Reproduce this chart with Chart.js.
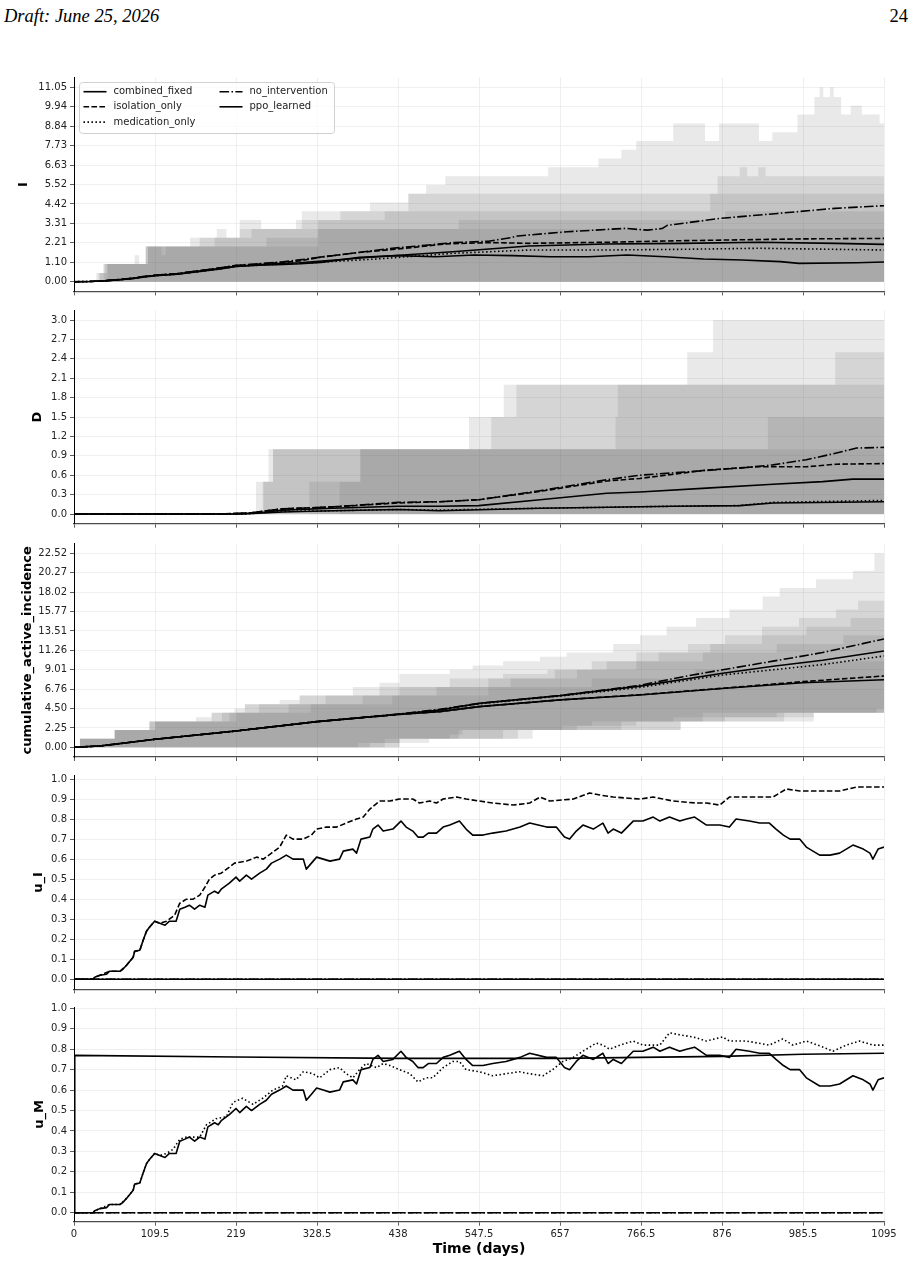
<!DOCTYPE html>
<html>
<head>
<meta charset="utf-8">
<title>Policy comparison over time</title>
<script src="https://cdn.jsdelivr.net/npm/chart.js@4.4.1/dist/chart.umd.min.js"></script>
<style>
  html, body { margin: 0; padding: 0; background: #fff; }
  body { position: relative; width: 916px; height: 1265px; overflow: hidden; }
  .page-head { position: absolute; top: 6px; font-family: "Liberation Serif", "DejaVu Serif", serif; font-size: 18.5px; line-height: 20px; color: #000; }
  #headLeft { left: 4px; font-style: italic; }
  #headRight { right: 8px; }
  canvas { position: absolute; left: 0; }
</style>
</head>
<body>
<div class="page-head" id="headLeft">Draft: June 25, 2026</div>
<div class="page-head" id="headRight">24</div>
<canvas id="panelI"></canvas>
<canvas id="panelD"></canvas>
<canvas id="panelCum"></canvas>
<canvas id="panelUI"></canvas>
<canvas id="panelUM"></canvas>
<script>
// ---- axis ticks ----
const dayTicks = [0, 109.5, 219, 328.5, 438, 547.5, 657, 766.5, 876, 985.5, 1095];
const iTickLabels = ['0.00', '1.10', '2.21', '3.31', '4.42', '5.52', '6.63', '7.73', '8.84', '9.94', '11.05'];
const dTickLabels = ['0.0', '0.3', '0.6', '0.9', '1.2', '1.5', '1.8', '2.1', '2.4', '2.7', '3.0'];
const cumTickLabels = ['0.00', '2.25', '4.50', '6.76', '9.01', '11.26', '13.51', '15.77', '18.02', '20.27', '22.52'];
const uTickLabels = ['0.0', '0.1', '0.2', '0.3', '0.4', '0.5', '0.6', '0.7', '0.8', '0.9', '1.0'];

const policies = ['combined_fixed', 'isolation_only', 'medication_only', 'no_intervention', 'ppo_learned'];

// ---- I: mean infected, [day, value] ----
const iCombined = [[0,0],[20,0.01],[40,0.04],[60,0.11],[80,0.19],[95,0.28],[110,0.35],[140,0.44],[170,0.6],[200,0.76],[219,0.88],[250,0.96],[283,1.05],[305,1.08],[409,1.42],[512,1.7],[615,2.03],[719,2.14],[822,2.18],[926,2.24],[1029,2.18],[1095,2.12]];
const iIsolation = [[0,0],[20,0.01],[40,0.05],[60,0.12],[80,0.2],[95,0.3],[110,0.37],[140,0.46],[170,0.63],[200,0.8],[219,0.92],[250,1.0],[283,1.1],[305,1.18],[334,1.4],[383,1.65],[409,1.75],[460,1.95],[502,2.15],[564,2.22],[615,2.18],[719,2.24],[822,2.33],[978,2.43],[1095,2.46]];
const iMedication = [[0,0],[20,0.01],[40,0.04],[60,0.1],[80,0.18],[95,0.27],[110,0.34],[140,0.43],[170,0.58],[200,0.74],[219,0.86],[250,0.94],[283,1.0],[305,1.04],[409,1.29],[512,1.61],[615,1.8],[719,1.8],[822,1.84],[926,1.9],[1029,1.84],[1095,1.8]];
const iNoIntervention = [[0,0],[20,0.01],[40,0.05],[60,0.12],[80,0.2],[95,0.3],[110,0.37],[140,0.46],[170,0.63],[200,0.8],[219,0.93],[250,1.02],[283,1.13],[305,1.24],[334,1.4],[383,1.65],[430,1.9],[470,2.05],[512,2.22],[560,2.3],[590,2.5],[600,2.6],[667,2.84],[745,3.03],[775,2.93],[795,3.02],[802,3.2],[874,3.6],[951,3.88],[1029,4.17],[1095,4.32]];
const iPpo = [[0,0],[20,0.01],[40,0.04],[60,0.1],[80,0.18],[95,0.27],[110,0.34],[140,0.43],[170,0.58],[200,0.74],[219,0.86],[250,0.93],[283,0.98],[306,1.02],[334,1.1],[386,1.38],[437,1.48],[489,1.42],[541,1.52],[593,1.48],[644,1.42],[696,1.42],[748,1.52],[799,1.42],[851,1.29],[903,1.23],[955,1.14],[980,1.04],[1058,1.08],[1095,1.12]];

// ---- I: upper percentile per policy (lower is 0), step breakpoints ----
const iHiNoIntervention = [[0,0],[30,0.5],[40,1],[82,1.5],[88,1],[97,2],[118,1.5],[124,2],[157,2.5],[193,3],[206,2.5],[224,3.5],[253,3],[308,4],[400,4.5],[452,5],[476,5.5],[502,6],[641,6.5],[709,7],[740,7.5],[760,8],[810,9],[853,8],[872,9],[926,8],[944,8.5],[978,9.5],[1001,10.5],[1008,11.05],[1013,10.5],[1022,11.05],[1027,10.5],[1037,9.5],[1050,10],[1065,9.5],[1089,9],[1095,9]];
const iHiIsolation = [[0,0],[33,0.5],[42,1],[97,2],[170,2.5],[224,3],[300,3.5],[360,4],[452,5],[870,6],[900,6.5],[910,6],[925,6.5],[935,6],[1095,6]];
const iHiCombined = [[0,0],[35,0.5],[45,1],[97,2],[190,2.5],[240,3],[330,3.5],[420,4],[860,5],[1095,5]];
const iHiMedication = [[0,0],[40,1],[100,2],[260,2.5],[330,3],[520,3.5],[880,4],[1095,4]];
const iHiPpo = [[0,0],[45,1],[100,2],[330,3],[1095,3]];

// ---- D: mean deaths ----
const dCombined = [[0,0],[220,0],[260,0.03],[282,0.06],[350,0.09],[438,0.12],[494,0.12],[547,0.13],[630,0.22],[720,0.32],[765,0.34],[855,0.4],[945,0.46],[1012,0.5],[1053,0.54],[1095,0.54]];
const dIsolation = [[0,0],[200,0],[240,0.02],[282,0.08],[350,0.11],[438,0.17],[494,0.19],[547,0.22],[630,0.35],[720,0.51],[765,0.55],[855,0.68],[922,0.73],[990,0.73],[1030,0.77],[1095,0.78]];
const dMedication = [[0,0],[230,0],[282,0.04],[350,0.05],[438,0.07],[494,0.06],[630,0.09],[700,0.1],[810,0.12],[900,0.13],[945,0.18],[1095,0.21]];
const dNoIntervention = [[0,0],[200,0],[240,0.02],[282,0.08],[350,0.11],[438,0.18],[494,0.19],[547,0.22],[630,0.36],[720,0.53],[765,0.6],[900,0.71],[945,0.76],[990,0.84],[1026,0.93],[1058,1.02],[1095,1.03]];
const dPpo = [[0,0],[230,0],[282,0.03],[350,0.05],[438,0.07],[494,0.05],[630,0.09],[700,0.1],[810,0.12],[900,0.13],[945,0.17],[1095,0.19]];

const dHiNoIntervention = [[0,0],[246,0.5],[263,1],[534,1.5],[581,2],[829,2.5],[864,3],[1095,3]];
const dHiIsolation = [[0,0],[255,0.5],[269,1],[564,1.5],[598,2],[1029,2.5],[1095,2.5]];
const dHiCombined = [[0,0],[256,0.5],[269,1],[732,1.5],[735,2],[1095,2]];
const dHiPpo = [[0,0],[318,0.5],[387,1],[938,1.5],[1095,1.5]];
const dHiMedication = [[0,0],[359,0.5],[387,1],[1095,1]];

// ---- cumulative_active_incidence: mean ----
const cumCombined = [[0,0],[35,0.15],[109.5,0.93],[219,1.9],[328.5,2.98],[438,3.83],[494,4.33],[547.5,5.1],[657,6.0],[765,7.1],[877,8.6],[945,9.4],[1012,10.1],[1095,11.18]];
const cumIsolation = [[0,0],[35,0.15],[109.5,0.93],[219,1.9],[328.5,2.98],[438,3.8],[494,4.14],[547.5,4.72],[657,5.5],[765,6.1],[876,6.85],[985,7.62],[1095,8.28]];
const cumMedication = [[0,0],[35,0.15],[109.5,0.93],[219,1.9],[328.5,2.98],[438,3.83],[494,4.3],[547.5,5.05],[657,5.95],[765,6.95],[877,8.4],[945,9.0],[1012,9.6],[1095,10.6]];
const cumNoIntervention = [[0,0],[35,0.15],[109.5,0.93],[219,1.9],[328.5,2.98],[438,3.85],[494,4.4],[547.5,5.1],[657,6.0],[765,7.2],[830,8.3],[877,9.0],[945,10.0],[1012,11.0],[1095,12.58]];
const cumPpo = [[0,0],[35,0.15],[109.5,0.93],[219,1.9],[328.5,2.98],[438,3.8],[494,4.14],[547.5,4.72],[657,5.5],[765,6.08],[876,6.82],[985,7.5],[1095,7.85]];

// ---- cumulative: percentile band per policy (low / high) ----
const cumLoNoIntervention = [[0,0],[384,0.5],[420,1],[508,1.5],[525,2],[660,2.5],[700,3],[810,3.5],[850,4],[1085,4.5],[1095,4.5]];
const cumHiNoIntervention = [[0,0],[8,1],[55,2],[102,3],[165,3.5],[186,4],[217,4.5],[231,5],[278,5.5],[305,6],[377,7],[413,7.5],[440,8.5],[508,9],[539,9.5],[580,10],[630,10.5],[666,11],[729,12],[765,13],[801,14],[841,15],[886,16],[931,17.5],[954,18.5],[1003,19.5],[1053,20.5],[1082,22.5],[1095,22.5]];
const cumLoIsolation = [[0,0],[400,0.5],[440,1],[520,2],[680,2.5],[760,3],[850,3.5],[950,4],[1095,4.5]];
const cumHiIsolation = [[0,0],[8,1],[55,2],[102,3],[186,4],[231,5],[305,6],[413,7],[508,8],[580,8.5],[640,9],[700,10],[760,11],[830,12],[880,13],[930,14],[980,15],[1030,16],[1060,17],[1095,18]];
const cumLoMedication = [[0,0],[420,0.5],[480,1],[580,2],[740,3],[880,3.5],[1000,4],[1095,5]];
const cumHiMedication = [[0,0],[8,1],[55,2],[102,3],[200,4],[250,5],[340,6],[440,7],[560,8],[650,9],[720,10],[790,11],[860,12],[930,13],[990,14],[1050,15],[1095,15.5]];
const cumLoCombined = [[0,0],[440,1],[600,2],[820,3],[960,4],[1095,5]];
const cumHiCombined = [[0,0],[8,1],[55,2],[110,3],[210,4],[290,5],[390,6],[490,7],[590,8],[680,9],[760,10],[850,11],[950,12],[1040,13],[1095,13.5]];
const cumLoPpo = [[0,0],[440,1],[620,2],[820,3],[1000,4],[1095,5.5]];
const cumHiPpo = [[0,0],[8,1],[55,2],[110,3],[220,4],[320,5],[430,6],[560,7],[700,8],[840,9],[980,10],[1095,10.5]];

// ---- controls ----
const ppoControl = [[0,0],[26,0],[28,0.01],[35,0.02],[44,0.025],[48,0.04],[62,0.04],[66,0.05],[71,0.07],[80,0.11],[82,0.14],[89,0.145],[93,0.19],[98,0.24],[102,0.26],[109,0.29],[116,0.28],[123,0.27],[129,0.29],[138,0.29],[143,0.35],[150,0.36],[156,0.37],[163,0.35],[170,0.37],[177,0.36],[181,0.42],[190,0.44],[195,0.43],[199,0.45],[210,0.48],[219,0.51],[224,0.49],[233,0.52],[240,0.5],[251,0.53],[260,0.55],[267,0.58],[278,0.6],[287,0.62],[296,0.6],[310,0.6],[314,0.55],[321,0.58],[328,0.61],[337,0.6],[346,0.59],[359,0.6],[364,0.64],[377,0.65],[382,0.63],[388,0.7],[400,0.71],[404,0.75],[411,0.77],[418,0.74],[431,0.75],[442,0.79],[449,0.76],[458,0.74],[465,0.71],[472,0.71],[479,0.73],[490,0.73],[499,0.76],[508,0.77],[521,0.79],[530,0.75],[539,0.72],[553,0.72],[566,0.73],[584,0.74],[603,0.76],[616,0.78],[639,0.76],[652,0.76],[663,0.71],[670,0.7],[679,0.74],[688,0.77],[702,0.75],[715,0.78],[722,0.73],[729,0.75],[740,0.73],[756,0.79],[769,0.79],[783,0.81],[792,0.79],[805,0.81],[819,0.79],[828,0.8],[839,0.81],[855,0.77],[873,0.77],[886,0.76],[895,0.8],[913,0.79],[927,0.78],[940,0.78],[949,0.75],[959,0.72],[968,0.7],[981,0.7],[990,0.66],[1008,0.62],[1022,0.62],[1035,0.63],[1053,0.67],[1067,0.65],[1076,0.63],[1080,0.6],[1087,0.65],[1095,0.66]];
const uIIsolation = [[0,0],[26,0],[28,0.01],[35,0.02],[48,0.04],[62,0.04],[71,0.07],[80,0.11],[82,0.14],[89,0.145],[93,0.19],[98,0.24],[102,0.26],[109,0.29],[116,0.28],[125,0.29],[136,0.32],[143,0.38],[152,0.4],[161,0.4],[170,0.42],[177,0.46],[183,0.5],[190,0.52],[199,0.53],[210,0.56],[217,0.58],[233,0.59],[247,0.61],[256,0.6],[267,0.63],[278,0.66],[287,0.72],[296,0.7],[310,0.7],[321,0.72],[328,0.75],[341,0.76],[355,0.76],[368,0.78],[382,0.8],[391,0.81],[400,0.85],[413,0.89],[427,0.89],[440,0.9],[458,0.9],[467,0.88],[481,0.89],[490,0.88],[499,0.9],[517,0.91],[530,0.9],[548,0.89],[566,0.88],[594,0.87],[616,0.88],[630,0.91],[643,0.89],[675,0.9],[697,0.93],[711,0.92],[729,0.91],[765,0.9],[783,0.91],[810,0.89],[841,0.88],[855,0.88],[873,0.87],[886,0.91],[945,0.91],[963,0.95],[981,0.94],[1013,0.94],[1035,0.94],[1058,0.96],[1080,0.96],[1095,0.96]];
const uMMedication = [[0,0],[26,0],[28,0.01],[35,0.02],[48,0.04],[62,0.04],[71,0.07],[80,0.11],[82,0.14],[89,0.145],[93,0.19],[98,0.24],[102,0.26],[109,0.29],[116,0.28],[125,0.29],[134,0.31],[143,0.36],[152,0.37],[170,0.37],[179,0.43],[192,0.46],[206,0.47],[215,0.54],[228,0.56],[242,0.53],[255,0.56],[269,0.6],[282,0.62],[287,0.67],[300,0.65],[310,0.69],[323,0.68],[332,0.66],[346,0.7],[359,0.71],[368,0.68],[377,0.66],[386,0.7],[395,0.73],[409,0.71],[418,0.73],[427,0.72],[440,0.7],[454,0.68],[465,0.64],[476,0.66],[485,0.66],[499,0.71],[512,0.74],[521,0.74],[530,0.7],[548,0.69],[566,0.67],[584,0.68],[602,0.69],[616,0.68],[634,0.67],[647,0.7],[661,0.74],[675,0.76],[688,0.79],[697,0.81],[706,0.83],[715,0.82],[724,0.8],[738,0.82],[756,0.84],[769,0.82],[792,0.82],[805,0.88],[819,0.87],[837,0.86],[855,0.84],[877,0.86],[886,0.84],[909,0.84],[940,0.82],[958,0.85],[972,0.82],[990,0.84],[1013,0.81],[1026,0.79],[1044,0.82],[1062,0.84],[1080,0.82],[1095,0.82]];
const uMCombined = [[0,0],[1,0.77],[219,0.762],[438,0.755],[657,0.755],[766,0.76],[876,0.765],[985,0.775],[1095,0.78]];
const zeroControl = [[0,0],[1095,0]];

// ---- styling ----
const BAND_FILL = 'rgba(80,80,80,0.125)';
const GRID = '#ebebeb';
const TITLE_FONT = { family: 'DejaVu Sans', weight: 'bold', size: 13, lineHeight: 1.2 };
const dashFor = {
  combined_fixed: [],
  isolation_only: [5.55, 2.4],
  medication_only: [1.5, 2.475],
  no_intervention: [9.6, 2.4, 1.5, 2.4],
  ppo_learned: []
};

Chart.defaults.font.family = 'DejaVu Sans';
Chart.defaults.font.size = 10;
Chart.defaults.color = '#222';

const xy = pts => pts.map(([x, y]) => ({ x, y }));

function meanLine(policy, pts) {
  return {
    label: policy, data: xy(pts), order: 0,
    borderColor: '#000', borderWidth: 1.6, borderDash: dashFor[policy],
    borderJoinStyle: 'round', pointRadius: 0, fill: false, tension: 0
  };
}

// percentile band: optional lower edge, upper edge filled down to it
function band(lo, hi) {
  const edge = { label: '', borderWidth: 0, borderColor: 'rgba(0,0,0,0)', pointRadius: 0, stepped: true, order: 1 };
  if (!lo) return [{ ...edge, data: xy(hi), fill: 'origin', backgroundColor: BAND_FILL }];
  return [
    { ...edge, data: xy(lo), fill: false },
    { ...edge, data: xy(hi), fill: '-1', backgroundColor: BAND_FILL }
  ];
}

// legend drawn inside the top panel, two columns like the original
const insetLegend = {
  id: 'insetLegend',
  afterDatasetsDraw(chart) {
    const ctx = chart.ctx;
    const box = { x: 79.5, y: 82.5 - chart.canvas.offsetTop, w: 255, h: 51 };
    ctx.save();
    ctx.beginPath();
    ctx.roundRect(box.x, box.y, box.w, box.h, 3);
    ctx.fillStyle = 'rgba(255,255,255,0.8)';
    ctx.fill();
    ctx.strokeStyle = '#d0d0d0';
    ctx.lineWidth = 1;
    ctx.stroke();
    ctx.font = '10px "DejaVu Sans"';
    ctx.textBaseline = 'middle';
    ctx.fillStyle = '#222';
    const cols = [83.5, 219.5];
    const rows = [9.2, 24.3, 39.6];
    policies.forEach((p, k) => {
      const ds = chart.data.datasets.find(d => d.label === p);
      const cx = cols[Math.floor(k / 3)];
      const cy = box.y + rows[k % 3];
      ctx.beginPath();
      ctx.setLineDash(ds.borderDash);
      ctx.lineWidth = ds.borderWidth;
      ctx.strokeStyle = ds.borderColor;
      ctx.moveTo(cx, cy);
      ctx.lineTo(cx + 23, cy);
      ctx.stroke();
      ctx.setLineDash([]);
      ctx.fillText(p, cx + 30, cy);
    });
    ctx.restore();
  }
};

function makePanel(frame, yTitle, tickLabels, datasets, bottom, extraPlugins) {
  const canvas = document.getElementById(frame.id);
  const canvasTop = Math.floor(frame.top) - 12;
  const h = Math.ceil(frame.bottom - canvasTop + (bottom ? 36 : 12));
  const xHeight = h - (frame.bottom - canvasTop);
  canvas.width = 916;
  canvas.height = h;
  canvas.style.top = canvasTop + 'px';
  const padLeft = frame.titleX - TITLE_FONT.size * TITLE_FONT.lineHeight / 2;

  return new Chart(canvas, {
    type: 'line',
    data: { datasets },
    plugins: extraPlugins || [],
    options: {
      responsive: false,
      animation: false,
      devicePixelRatio: 1,
      layout: { padding: { top: frame.top - canvasTop, bottom: 0, left: padLeft, right: 32 } },
      plugins: { legend: { display: false }, tooltip: { enabled: false } },
      scales: {
        x: {
          type: 'linear', min: 0, max: 1095,
          afterBuildTicks: s => { s.ticks = dayTicks.map(v => ({ value: v })); },
          afterFit: s => { s.height = xHeight; },
          ticks: { display: bottom, autoSkip: false, maxRotation: 0, padding: 3, color: '#222', callback: v => String(v) },
          grid: { color: GRID, lineWidth: 0.8, tickLength: 4, tickColor: '#333', tickWidth: 0.8 },
          border: { color: '#4a4a4a', width: 1.3, z: 1 },
          title: { display: bottom, text: 'Time (days)', font: { ...TITLE_FONT, size: 14 }, padding: 0, color: '#000' }
        },
        y: {
          type: 'linear', min: frame.yMin, max: frame.yMax,
          afterBuildTicks: s => { s.ticks = tickLabels.map(t => ({ value: parseFloat(t) })); },
          afterFit: s => { s.width = 74 - padLeft; },
          ticks: { autoSkip: false, padding: 3, color: '#222', callback: (v, i) => tickLabels[i] },
          grid: { color: GRID, lineWidth: 0.8, tickLength: 4, tickColor: '#333', tickWidth: 0.8 },
          border: { color: '#000', width: 1, z: 1 },
          title: { display: true, text: yTitle, font: TITLE_FONT, padding: 0, color: '#000' }
        }
      }
    }
  });
}

const frames = {
  I:   { id: 'panelI',   top: 77.6,   bottom: 291.4,  yMin: -0.5525, yMax: 11.6025, titleX: 24 },
  D:   { id: 'panelD',   top: 310.3,  bottom: 523.7,  yMin: -0.15,   yMax: 3.15,    titleX: 37.3 },
  cum: { id: 'panelCum', top: 543.6,  bottom: 757.0,  yMin: -1.126,  yMax: 23.646,  titleX: 27.5 },
  uI:  { id: 'panelUI',  top: 775.7,  bottom: 989.3,  yMin: -0.0499, yMax: 1.0165,  titleX: 38.3 },
  uM:  { id: 'panelUM',  top: 1007.3, bottom: 1221.7, yMin: -0.044,  yMax: 1.005,   titleX: 40 }
};

makePanel(frames.I, 'I', iTickLabels, [
  meanLine('combined_fixed', iCombined),
  meanLine('isolation_only', iIsolation),
  meanLine('medication_only', iMedication),
  meanLine('no_intervention', iNoIntervention),
  meanLine('ppo_learned', iPpo),
  ...band(null, iHiNoIntervention),
  ...band(null, iHiIsolation),
  ...band(null, iHiCombined),
  ...band(null, iHiMedication),
  ...band(null, iHiPpo)
], false, [insetLegend]);

makePanel(frames.D, 'D', dTickLabels, [
  meanLine('combined_fixed', dCombined),
  meanLine('isolation_only', dIsolation),
  meanLine('medication_only', dMedication),
  meanLine('no_intervention', dNoIntervention),
  meanLine('ppo_learned', dPpo),
  ...band(null, dHiNoIntervention),
  ...band(null, dHiIsolation),
  ...band(null, dHiCombined),
  ...band(null, dHiPpo),
  ...band(null, dHiMedication)
], false);

makePanel(frames.cum, 'cumulative_active_incidence', cumTickLabels, [
  meanLine('combined_fixed', cumCombined),
  meanLine('isolation_only', cumIsolation),
  meanLine('medication_only', cumMedication),
  meanLine('no_intervention', cumNoIntervention),
  meanLine('ppo_learned', cumPpo),
  ...band(cumLoNoIntervention, cumHiNoIntervention),
  ...band(cumLoIsolation, cumHiIsolation),
  ...band(cumLoMedication, cumHiMedication),
  ...band(cumLoCombined, cumHiCombined),
  ...band(cumLoPpo, cumHiPpo)
], false);

makePanel(frames.uI, 'u_I', uTickLabels, [
  meanLine('combined_fixed', zeroControl),
  meanLine('medication_only', zeroControl),
  meanLine('no_intervention', zeroControl),
  meanLine('isolation_only', uIIsolation),
  meanLine('ppo_learned', ppoControl)
], false);

makePanel(frames.uM, 'u_M', uTickLabels, [
  meanLine('isolation_only', zeroControl),
  meanLine('no_intervention', zeroControl),
  meanLine('combined_fixed', uMCombined),
  meanLine('medication_only', uMMedication),
  meanLine('ppo_learned', ppoControl)
], true);
</script>
</body>
</html>
